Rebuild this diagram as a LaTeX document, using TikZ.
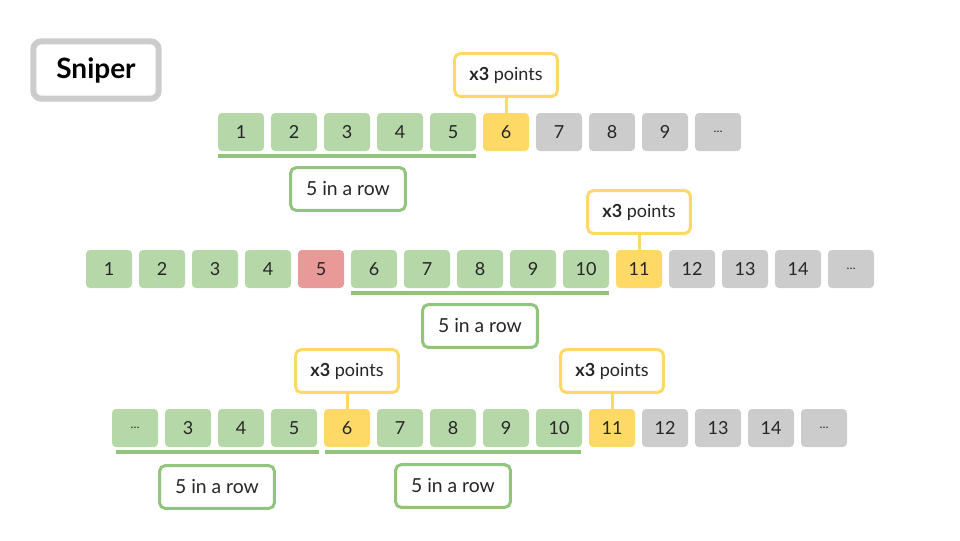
\documentclass[tikz,border=0pt]{standalone}
\usepackage{fontspec}
\setmainfont{Lato}
\definecolor{cellgreen}{HTML}{B6D7A8}
\definecolor{cellgray}{HTML}{CCCCCC}
\definecolor{cellyellow}{HTML}{FFD966}
\definecolor{cellred}{HTML}{EA9999}
\definecolor{linegreen}{HTML}{93C47D}
\definecolor{inkgray}{HTML}{262626}
\tikzset{
  cell/.style={rounded corners=3pt, minimum width=34.5pt, minimum height=28.5pt,
    inner sep=0pt, text=inkgray, font=\fontsize{13.5}{15}\selectfont},
  tag/.style={draw=cellyellow, line width=2.25pt, fill=white, rounded corners=4pt,
    minimum width=77pt, minimum height=32pt, inner sep=0pt, text=inkgray,
    font=\fontsize{13.5}{15}\selectfont},
  runbox/.style={draw=linegreen, line width=2.25pt, fill=white, rounded corners=4pt,
    minimum width=86pt, minimum height=32pt, inner sep=0pt, text=inkgray,
    font=\fontsize{14.5}{16}\selectfont},
  bar/.style={linegreen, line width=3pt},
  stem/.style={cellyellow, line width=2.25pt},
}
\begin{document}
\begin{tikzpicture}[x=0.75pt,y=-0.75pt]
  \useasboundingbox (0,0) rectangle (960,540);
  % title
  \node[draw=cellgray, line width=4.5pt, rounded corners=6pt, minimum width=94pt,
    minimum height=43pt, font=\fontsize{21}{24}\selectfont\bfseries] (title) at (96,70) {Sniper};
  % row 1
  \foreach \t/\c [count=\i] in {1/cellgreen,2/cellgreen,3/cellgreen,4/cellgreen,5/cellgreen,
            6/cellyellow,7/cellgray,8/cellgray,9/cellgray,{\small\ldots}/cellgray}
    \node[cell, fill=\c] (a\i) at ({188+53*\i},132) {\t};
  \node[tag] (ta) at (506,75) {\textbf{x3} points};
  \draw[stem] (ta) -- (a6);
  \draw[bar] ([yshift=-3.5pt]a1.south west) -- ([yshift=-3.5pt]a5.south east);
  \node[runbox] (ra) at (348,189) {5 in a row};
  % row 2
  \foreach \t/\c [count=\i] in {1/cellgreen,2/cellgreen,3/cellgreen,4/cellgreen,5/cellred,
            6/cellgreen,7/cellgreen,8/cellgreen,9/cellgreen,10/cellgreen,
            11/cellyellow,12/cellgray,13/cellgray,14/cellgray,{\small\ldots}/cellgray}
    \node[cell, fill=\c] (b\i) at ({56+53*\i},269) {\t};
  \node[tag] (tb) at (639,212) {\textbf{x3} points};
  \draw[stem] (tb) -- (b11);
  \draw[bar] ([yshift=-3.5pt]b6.south west) -- ([yshift=-3.5pt]b10.south east);
  \node[runbox] (rb) at (480,326) {5 in a row};
  % row 3
  \foreach \t/\c [count=\i] in {{\small\ldots}/cellgreen,3/cellgreen,4/cellgreen,5/cellgreen,
            6/cellyellow,7/cellgreen,8/cellgreen,9/cellgreen,10/cellgreen,
            11/cellyellow,12/cellgray,13/cellgray,14/cellgray,{\small\ldots}/cellgray}
    \node[cell, fill=\c] (c\i) at ({82+53*\i},428) {\t};
  \node[tag] (tc) at (347,371) {\textbf{x3} points};
  \node[tag] (td) at (612,371) {\textbf{x3} points};
  \draw[stem] (tc) -- (c5);
  \draw[stem] (td) -- (c10);
  \draw[bar] ([xshift=3pt,yshift=-3.5pt]c1.south west) -- ([xshift=1pt,yshift=-3.5pt]c4.south east);
  \draw[bar] ([xshift=1pt,yshift=-3.5pt]c5.south west) -- ([xshift=-1pt,yshift=-3.5pt]c9.south east);
  \node[runbox] (rc) at (217,487) {5 in a row};
  \node[runbox] (rd) at (453,486) {5 in a row};
\end{tikzpicture}
\end{document}
